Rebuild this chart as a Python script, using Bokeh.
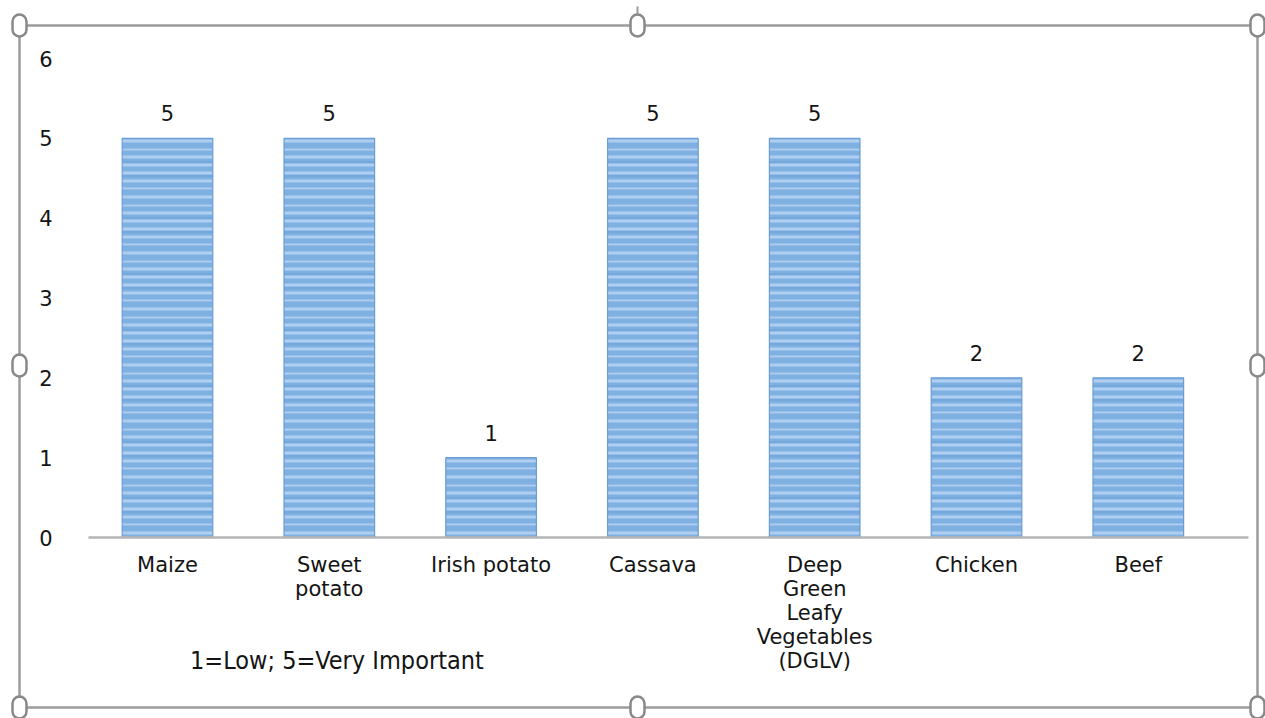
from bokeh.plotting import figure
from bokeh.models import ColumnDataSource, FixedTicker, BoxAnnotation, Label
from bokeh.core.properties import value
from bokeh.embed import file_html
from bokeh.resources import INLINE

# ---- data ----
categories = ["Maize", "Sweet\npotato", "Irish potato", "Cassava",
              "Deep\nGreen\nLeafy\nVegetables\n(DGLV)", "Chicken", "Beef"]
importance = [5, 5, 1, 5, 5, 2, 2]
y_ticks = [0, 1, 2, 3, 4, 5, 6]
note_text = "1=Low;  5=Very Important"

# ---- geometry: the plot frame covers the whole canvas (px) ----
W, H = 1265, 718
C0, STEP = 167.0, 161.8          # px of first category centre, px per category
ZERO, UNIT = 537.0, 79.83        # px of y=0, px per unit
X0, X1 = (0 - C0) / STEP, (W - C0) / STEP
Y0, Y1 = -(H - ZERO) / UNIT, ZERO / UNIT

def dx(cx):
    return X0 + cx * (X1 - X0) / W

def dy(cy):
    return Y1 - cy * (Y1 - Y0) / H

idx = list(range(len(categories)))
src = ColumnDataSource(dict(x=idx, top=importance, lab=[str(v) for v in importance]))

p = figure(width=W, height=H, x_range=(X0, X1), y_range=(Y0, Y1),
           output_backend="svg", toolbar_location=None,
           min_border=0)
p.background_fill_color = "white"
p.border_fill_color = "white"
p.outline_line_color = None
p.xgrid.visible = False
p.ygrid.visible = False

FONT = "DejaVu Sans"
TXT = "#141414"

# bars: blue with horizontal light stripes
p.vbar(x="x", top="top", width=0.56, bottom=0, source=src,
       fill_color="#7eb0e2", line_color="#6a9dd4", line_width=1.2,
       hatch_pattern="horizontal_line", hatch_color="#c0daf4",
       hatch_scale=8, hatch_weight=3, hatch_alpha=0.75)
p.vbar(x="x", top="top", width=0.56, bottom=0, source=src,
       fill_color=None, line_color=None,
       hatch_pattern="horizontal_line", hatch_color="#6499d2",
       hatch_scale=14, hatch_weight=2, hatch_alpha=0.4)

# value labels
p.text(x="x", y="top", text="lab", source=src, text_align="center",
       text_baseline="alphabetic", y_offset=-25,
       text_font=value(FONT), text_font_size="21px", text_color=TXT)

# y axis (drawn inside the frame, at the left end of the baseline)
p.yaxis.fixed_location = dx(88)
p.yaxis.ticker = FixedTicker(ticks=y_ticks)
p.yaxis.axis_line_color = None
p.yaxis.major_tick_line_color = None
p.yaxis.minor_tick_line_color = None
p.yaxis.major_label_standoff = 30
p.yaxis.major_label_text_font = FONT
p.yaxis.major_label_text_font_size = "21px"
p.yaxis.major_label_text_color = TXT

# x axis (baseline at y = 0)
p.xaxis.fixed_location = 0
p.xaxis.bounds = (dx(88), dx(1248))
p.xaxis.ticker = FixedTicker(ticks=idx)
p.xaxis.major_label_overrides = {i: c for i, c in zip(idx, categories)}
p.xaxis.axis_line_color = "#b4b4b4"
p.xaxis.axis_line_width = 2.5
p.xaxis.major_tick_line_color = None
p.xaxis.minor_tick_line_color = None
p.xaxis.major_label_standoff = 9
p.xaxis.major_label_text_font = FONT
p.xaxis.major_label_text_font_size = "21px"
p.xaxis.major_label_text_color = TXT
p.xaxis.major_label_text_line_height = 1.0

# scale note (condensed face)
p.add_layout(Label(x=dx(340), y=dy(660), text=note_text, text_align="center",
                   text_baseline="middle",
                   text_font="'DejaVu Sans Condensed', Roboto, sans-serif",
                   text_font_size="25px", text_color=TXT))

# selection frame with handles
L, R, T, B = 19, 1257, 25, 707
p.add_layout(BoxAnnotation(left=dx(L), right=dx(R), top=dy(T), bottom=dy(B),
                           fill_color=None, fill_alpha=0,
                           line_color="#9c9c9c", line_alpha=1, line_width=2.5,
                           level="overlay"))
MX, MY = 637, 365
p.add_layout(BoxAnnotation(left=dx(MX - 1), right=dx(MX + 1), top=dy(6), bottom=dy(T),
                           fill_color="#9a9a9a", fill_alpha=1, line_color=None,
                           level="overlay"))
for hx, hy in [(L, T), (MX, T), (R, T), (L, MY), (R, MY), (L, B), (MX, B), (R, B)]:
    p.add_layout(BoxAnnotation(left=dx(hx - 7), right=dx(hx + 7),
                               top=dy(hy - 11), bottom=dy(hy + 11),
                               fill_color="white", fill_alpha=1,
                               line_color="#888888", line_alpha=1, line_width=2.5,
                               border_radius=7, level="overlay"))

open("out.html", "w").write(file_html(p, INLINE))
